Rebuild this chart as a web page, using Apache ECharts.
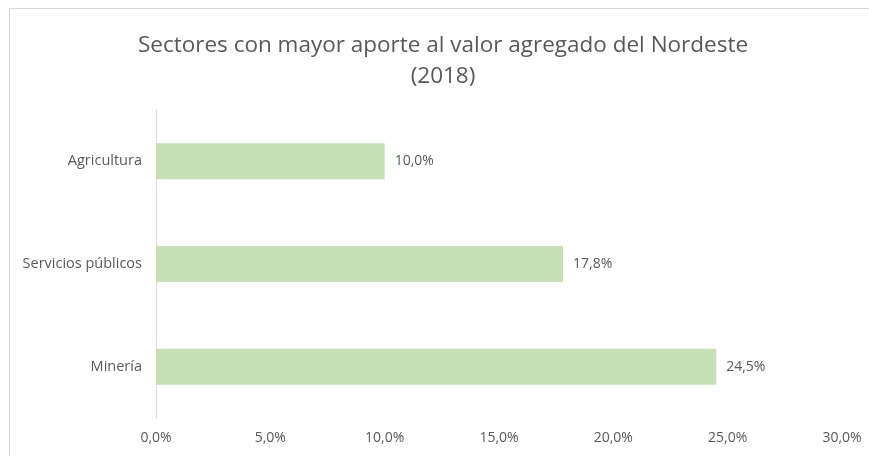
<!DOCTYPE html>
<html>
<head>
<meta charset="utf-8">
<script src="https://cdn.jsdelivr.net/npm/echarts@6/dist/echarts.min.js"></script>
<style>
  html, body { margin: 0; padding: 0; background: #fff; }
  #frame {
    position: absolute;
    left: 9px;
    top: 8px;
    width: 900px;
    height: 500px;
    border: 1px solid #d9d9d9;
  }
  #chart { position: absolute; left: 0; top: 0; width: 869px; height: 456px; }
</style>
</head>
<body>
<div id="frame"></div>
<div id="chart"></div>
<script>
const titleText = 'Sectores con mayor aporte al valor agregado del Nordeste\n(2018)'
const categories = ['Agricultura', 'Servicios públicos', 'Minería']
const values = [10.0, 17.8, 24.5]

const fontFamily = '"Open Sans", "Noto Sans", sans-serif'
const textColor = '#595959'
const fmt = v => v.toFixed(1).replace('.', ',') + '%'

const chart = echarts.init(document.getElementById('chart'))
chart.setOption({
  animation: false,
  title: {
    text: titleText,
    left: 438,
    textAlign: 'center',
    top: 25,
    textStyle: {
      fontFamily: fontFamily,
      fontSize: 22.5,
      fontWeight: 'normal',
      color: textColor,
      lineHeight: 31
    }
  },
  grid: {
    left: 156,
    right: 27,
    top: 110,
    bottom: 38
  },
  xAxis: {
    type: 'value',
    min: 0,
    max: 30,
    interval: 5,
    axisLine: { show: false },
    axisTick: { show: false },
    splitLine: { show: false },
    axisLabel: {
      formatter: fmt,
      margin: 13,
      fontFamily: fontFamily,
      fontSize: 14,
      color: textColor
    }
  },
  yAxis: {
    type: 'category',
    data: categories,
    inverse: true,
    axisLine: { show: true, lineStyle: { color: '#d9d9d9', width: 1 } },
    axisTick: { show: false },
    axisLabel: {
      margin: 14,
      fontFamily: fontFamily,
      fontSize: 14.5,
      color: textColor
    }
  },
  series: [{
    type: 'bar',
    data: values,
    barWidth: 36,
    itemStyle: { color: '#C5E0B4' },
    label: {
      show: true,
      position: 'right',
      distance: 10,
      formatter: p => fmt(p.value),
      fontFamily: fontFamily,
      fontSize: 14,
      color: textColor
    }
  }]
})
</script>
</body>
</html>
